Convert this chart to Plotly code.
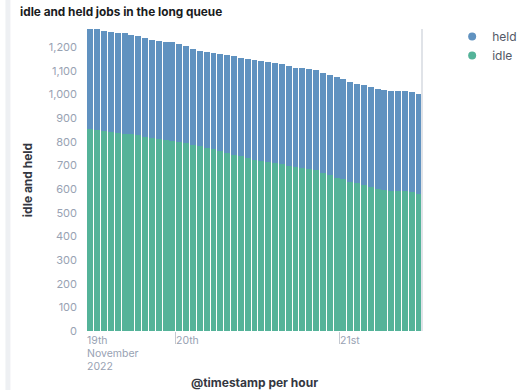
import plotly.graph_objects as go
import pandas as pd

# hourly buckets, 2022-11-19 11:00 .. 2022-11-21 11:00
hours = pd.date_range("2022-11-19 11:00", periods=49, freq="h")

total = [1277, 1276, 1269, 1263, 1259, 1258, 1252, 1246, 1237, 1229,
         1225, 1222, 1222, 1212, 1204, 1194, 1184, 1179, 1176, 1172,
         1169, 1163, 1153, 1149, 1145, 1141, 1139, 1135, 1129, 1120,
         1114, 1110, 1108, 1103, 1093, 1084, 1074, 1065, 1053, 1046,
         1041, 1032, 1025, 1018, 1015, 1014, 1013, 1010, 1004]

idle = [855, 852, 846, 842, 838, 835, 831, 827, 821, 816,
        811, 807, 803, 798, 793, 787, 781, 775, 768, 760,
        753, 745, 738, 730, 722, 717, 714, 711, 707, 698,
        692, 689, 686, 680, 670, 660, 649, 641, 632, 624,
        618, 610, 602, 597, 594, 593, 590, 587, 578]

held = [t - i for t, i in zip(total, idle)]

tick_dates = ["2022-11-19 11:00", "2022-11-20 00:00", "2022-11-21 00:00"]
tick_labels = [["19th", "November", "2022"], ["20th"], ["21st"]]

C_HELD = "#6092C0"
C_IDLE = "#54B399"
FONT = "Inter"

fig = go.Figure()
fig.add_trace(go.Bar(x=hours, y=idle, name="idle", marker_color=C_IDLE,
                     marker_line_width=0, showlegend=False,
                     xperiod=3600000, xperiodalignment="middle"))
fig.add_trace(go.Bar(x=hours, y=held, name="held", marker_color=C_HELD,
                     marker_line_width=0, showlegend=False,
                     xperiod=3600000, xperiodalignment="middle"))
# legend entries with round markers
fig.add_trace(go.Scatter(x=[None], y=[None], mode="markers", name="held",
                         legendgroup="held",
                         marker=dict(color=C_HELD, size=8, symbol="circle")))
fig.add_trace(go.Scatter(x=[None], y=[None], mode="markers", name="idle",
                         legendgroup="idle",
                         marker=dict(color=C_IDLE, size=8, symbol="circle")))

for d, lines in zip(tick_dates, tick_labels):
    for k, line in enumerate(lines):
        fig.add_annotation(x=d, xref="x", y=0, yref="paper", yanchor="top",
                           xanchor="left", xshift=-1, yshift=-2 - 13 * k,
                           text=line, showarrow=False, align="left",
                           borderpad=0,
                           font=dict(family=FONT, size=10.5, color="#98A2B3"))

fig.update_layout(
    width=525, height=390,
    margin=dict(l=87, r=103, t=29, b=59, autoexpand=False),
    paper_bgcolor="white", plot_bgcolor="white",
    barmode="stack", bargap=0.13,
    font=dict(family=FONT, color="#343741"),
    title=dict(text="<b>idle and held jobs in the long queue</b>",
               x=20/525, xanchor="left", xref="container",
               y=1 - 12/390, yanchor="middle", yref="container",
               font=dict(family=FONT, size=11.8, color="#1a1c21")),
    legend=dict(x=1.09, y=1.023, xanchor="left", yanchor="top",
                traceorder="normal",
                font=dict(family=FONT, size=12, color="#535966"),
                tracegroupgap=3, bgcolor="rgba(0,0,0,0)"),
    xaxis=dict(type="date", automargin=False,
               range=["2022-11-19 11:00", "2022-11-21 12:00"],
               tickvals=["2022-11-20 00:00", "2022-11-21 00:00"],
               showticklabels=False, ticks="outside", ticklen=12,
               tickcolor="#C4C9D1", tickwidth=1,
               showgrid=False, zeroline=False, showline=False,
               title=dict(text="<b>@timestamp per hour</b>", standoff=38,
                          font=dict(family=FONT, size=12, color="#343741"))),
    yaxis=dict(range=[0, 1277], tickvals=list(range(0, 1300, 100)),
               automargin=False,
               tickformat=",", showgrid=False, zeroline=False, showline=False,
               ticks="", ticklabelstandoff=9,
               tickfont=dict(family=FONT, size=11, color="#98A2B3"),
               title=dict(text="<b>idle and held</b>", standoff=13,
                          font=dict(family=FONT, size=12, color="#343741"))),
)

# right-edge marker line of the chart area
fig.add_shape(type="line", xref="paper", yref="paper", x0=1, x1=1, y0=0, y1=1,
              line=dict(color="#E0E3E8", width=2))
# panel border on the left
fig.add_shape(type="line", xref="paper", yref="paper",
              x0=-0.236, x1=-0.236, y0=-0.2, y1=1.1,
              line=dict(color="#EEF0F3", width=5))

fig.write_html("out.html", config={"displayModeBar": False},
               post_script="document.body.style.margin='0px';"
                           "document.body.style.overflow='hidden';")
